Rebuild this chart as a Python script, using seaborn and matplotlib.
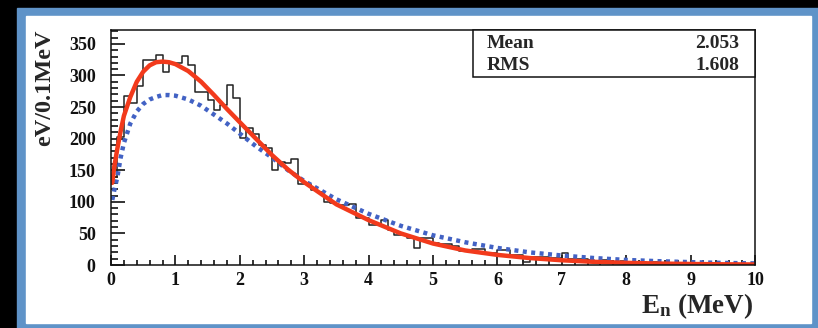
import numpy as np
import pandas as pd
import matplotlib
matplotlib.use('Agg')
import matplotlib.pyplot as plt
from matplotlib.patches import Rectangle
from matplotlib.ticker import MultipleLocator, AutoMinorLocator
import seaborn as sns

# histogram contents, 0.1 MeV bins from 0 to 10 MeV
bin_edges = [round(0.1 * i, 2) for i in range(101)]
hist_counts = [140, 203, 267, 256, 283, 324, 324, 332, 306, 320,
               320, 331, 316, 274, 274, 261, 245, 254, 285, 264,
               201, 217, 208, 190, 186, 150, 163, 161, 168, 128,
               128, 119, 115, 100, 98, 95, 95, 97, 74, 74,
               63, 63, 71, 55, 47, 47, 43, 27, 43, 43,
               35, 33, 33, 30, 22, 22, 25, 25, 19, 19,
               24, 24, 16, 16, 5, 13, 13, 13, 11, 11,
               19, 10, 10, 9, 8, 7, 8, 6, 5, 6,
               4, 5, 4, 3, 4, 3, 3, 2, 3, 2,
               2, 2, 1, 2, 1, 1, 1, 1, 1, 1]

# fitted curve (red) and reference spectrum (blue dotted)
curve_e = [0.02, 0.05, 0.1, 0.15, 0.2, 0.3, 0.4, 0.5, 0.6, 0.7, 0.8, 0.9, 1.0,
           1.2, 1.4, 1.6, 1.8, 2.0, 2.25, 2.5, 2.75, 3.0, 3.5, 4.0, 4.5, 5.0,
           5.5, 6.0, 6.5, 7.0, 7.5, 8.0, 8.5, 9.0, 9.5, 10.0]
fit_red = [130, 155, 185, 212, 236, 266, 290, 306, 316, 321, 322, 321, 318,
           307, 290, 269, 247, 226, 200, 174, 151, 131, 96, 71, 50, 34,
           23, 16, 11, 7.5, 5, 3.4, 2.3, 1.6, 1.1, 0.8]
ref_blue = [103, 118, 140, 170, 193, 224, 243, 255, 262, 266, 269, 269, 268,
            262, 252, 238, 224, 208, 188, 170, 150, 133, 104, 81, 62, 47,
            36, 27, 20, 15, 11, 8, 6, 4.5, 3.3, 2.5]

stat_names = ['Mean', 'RMS']
stat_values = ['2.053', '1.608']

sns.set_style('ticks')
plt.rcParams['font.family'] = ['Liberation Serif', 'DejaVu Serif']
plt.rcParams['font.weight'] = 'bold'
plt.rcParams['mathtext.fontset'] = 'custom'
plt.rcParams['mathtext.rm'] = 'Liberation Serif:bold'
plt.rcParams['mathtext.it'] = 'Liberation Serif:bold'
plt.rcParams['mathtext.bf'] = 'Liberation Serif:bold'

fig = plt.figure(figsize=(8.18, 3.28), dpi=100, facecolor='black')
W, H = 818, 328

# blue frame and white panel
fig.patches.append(Rectangle((17 / W, 0), (W - 17) / W, (H - 8) / H,
                             transform=fig.transFigure, color='#5f93c8', zorder=-2))
fig.patches.append(Rectangle((26 / W, 5 / H), (811 - 26) / W, (323 - 16) / H,
                             transform=fig.transFigure, color='white', zorder=-1))

ax = fig.add_axes([111 / W, 1 - 265 / H, (755 - 111) / W, (265 - 30) / H])
ax.patch.set_alpha(0)

df = pd.DataFrame({'E': [(bin_edges[i] + bin_edges[i + 1]) / 2 for i in range(100)],
                   'counts': hist_counts})
sns.histplot(data=df, x='E', weights='counts', bins=bin_edges, element='step',
             fill=False, color='#222222', linewidth=1.1, ax=ax)
sns.lineplot(x=curve_e, y=ref_blue, color='#4262c4', linewidth=3.2,
             linestyle=(0, (0.9, 1.0)), ax=ax)
sns.lineplot(x=curve_e, y=fit_red, color='#f23a1c', linewidth=3.2, ax=ax)

ax.set_xlim(0, 10)
ax.set_ylim(0, 372)
ax.set_xlabel('')
ax.set_ylabel('')
ax.xaxis.set_major_locator(MultipleLocator(1))
ax.xaxis.set_minor_locator(AutoMinorLocator(5))
ax.yaxis.set_major_locator(MultipleLocator(50))
ax.yaxis.set_minor_locator(AutoMinorLocator(5))
ax.tick_params(axis='both', which='both', direction='in', width=1.2, colors='#111111')
ax.tick_params(axis='y', which='major', length=10, pad=11, labelsize=13)
ax.tick_params(axis='y', which='minor', length=5)
ax.tick_params(axis='x', which='major', length=7, pad=5, labelsize=13)
ax.tick_params(axis='x', which='minor', length=3.5)
for s in ax.spines.values():
    s.set_linewidth(1.1)
    s.set_color('#111111')

# stats box
ax.add_patch(Rectangle(((473 - 111) / 644, (265 - 77) / 235), (755 - 473) / 644,
                       (77 - 30) / 235, transform=ax.transAxes, facecolor='white',
                       edgecolor='#111111', linewidth=1.1, zorder=5, clip_on=False))
for i, (n, v) in enumerate(zip(stat_names, stat_values)):
    yy = 1 - (43 + 23 * i) / H
    fig.text(487 / W, yy, n, fontsize=14, ha='left', va='center', zorder=6)
    fig.text(739 / W, yy, v, fontsize=14, ha='right', va='center', zorder=6)

fig.text(45 / W, 1 - 88 / H, 'eV/0.1MeV', fontsize=17.5, rotation=90,
         ha='center', va='center')
fig.text(753 / W, 1 - 306 / H, r'E$_{\rm n}$ (MeV)', fontsize=19.5,
         ha='right', va='center')

fig.savefig('out.png', dpi=100, facecolor='black')
